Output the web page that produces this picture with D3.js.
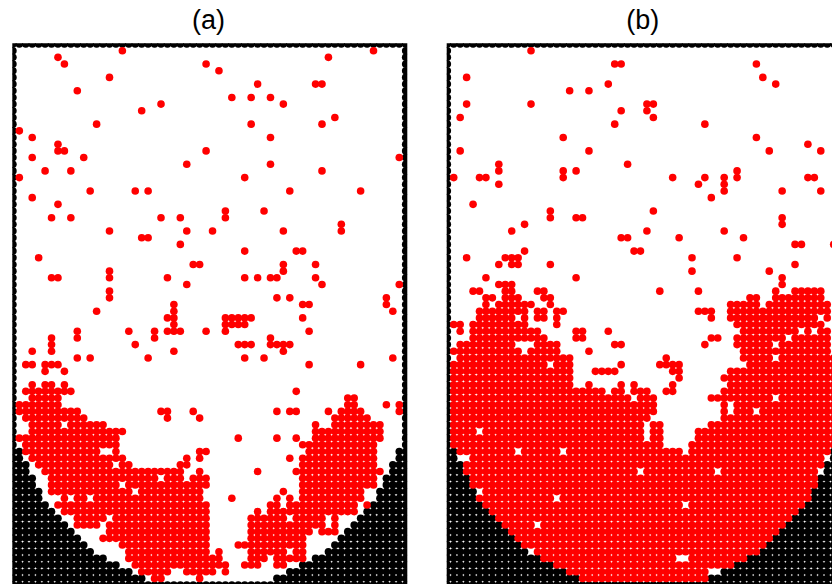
<!DOCTYPE html>
<html>
<head>
    <title>lattice panels</title>
    <script src="https://d3js.org/d3.v7.min.js"></script>
    <style>
        html, body { margin: 0; padding: 0; background: #fff; overflow: hidden; }
        svg { display: block; }
    </style>
</head>
<body>
<div id="chart"></div>
<script>
// panel titles
var titles = ["(a)", "(b)"];

// lattice size: columns 0..61, rows 0..81
var nCols = 61, nRows = 81;

// last wall column on the left for rows 60..80 (mirror on the right)
var wallRows = [60, 61, 62, 63, 64, 65, 66, 67, 68, 69, 70, 71, 72, 73, 74, 75, 76, 77, 78, 79, 80];
var wallEdge = [0, 1, 1, 2, 2, 3, 3, 4, 4, 5, 6, 7, 8, 9, 10, 11, 12, 14, 16, 18, 20];

// red sites by row: [row, "columns"], a-b is a run of columns
var sitesA = [
    [1, "17 56"], [2, "7 49"], [3, "8 30"], [4, "32"], [5, "15"], [6, "38 47 48"], [7, "10"],
    [8, "34 37 40"], [9, "23 42"], [10, "20"], [11, "50"], [12, "13 37 48"], [13, "1"], [14, "3 40"],
    [15, "7"], [16, "7 8 30"], [17, "3 11 60"], [18, "27 40"], [19, "5 9 48"], [20, "1 36"],
    [22, "12 19 21 43 54"], [23, "3"], [24, "7"], [25, "33 39"], [26, "6 9 23 26 33"], [27, "51"],
    [28, "15 27 31 42 51"], [29, "20 21"], [30, "26"], [31, "36 44 45"], [32, "4"], [33, "28 29 42 47"],
    [34, "15 42"], [35, "6 7 15 24 36 38 40 41 47"], [36, "27 48 60"], [37, "15"], [38, "15 41 43 58"],
    [39, "25 45 46 58"], [40, "13 25 59"], [41, "24 25 33-37 45"], [42, "25 33-36"],
    [43, "10 18 22 24-26 30 33 46"], [44, "6 10 22 40"], [45, "6 19 35-37 40-43"], [46, "3 6 25 42"],
    [47, "10 12 21 36 39 59"], [48, "2 3 5-7 46 54"], [49, "5 8"], [51, "3 5 6 8"], [52, "2-9 44"],
    [53, "3-7 52 53"], [54, "1-7 52 53 58 60"], [55, "1-10 23 24 28 41 43 44 49 51-54 60"],
    [56, "2-11 24 29 50-55"], [57, "3-7 9-14 47 50-57"], [58, "3-17 47-57"], [59, "1-16 35 41 44 47-57"],
    [60, "2-16 45-56"], [61, "2-13 16 29 30 46-56"], [62, "3-17 27 29 43 45-56"], [63, "4-15 17 18 26 27 45-56"],
    [64, "5-26 29 38 44-57"], [65, "6-22 24-26 28-30 45-56"], [66, "6-16 18-30 45-56"], [67, "6-18 20-29 42 45-54"],
    [68, "8 10 11 13-29 34 41 43 45-54"], [69, "7-30 40 41 43-53 55"], [70, "8-30 38 40-53"],
    [71, "10-14 16-30 37-42 44-48 50"], [72, "10-13 15-30 37-48 50"], [73, "15-30 37-46 48-50"],
    [74, "14-30 37-45"], [75, "17-30 35-45"], [76, "18-30 32 37-42 44 45"], [77, "18-32 37-39 41-45"],
    [78, "19-33 36-38 41 42"], [79, "20-24 27-31 33"], [80, "22 23 29"]
];

var sitesB = [
    [1, "13"], [3, "26 27 48"], [5, "3 49"], [6, "25 51"], [7, "19 22"], [9, "3 13 31 32"], [10, "27 31"],
    [11, "2 32"], [12, "26 40"], [14, "18 48"], [15, "56"], [16, "2 22 50 58"], [18, "8 28"], [19, "8 18 20 45"],
    [20, "1 5 6 18 35 40 43 45 56 57"], [21, "8 39 43"], [22, "43 52 58"], [23, "41"], [24, "4"], [25, "16 32"],
    [26, "16 20 21 52"], [27, "12 52"], [28, "10 31 43"], [29, "27 28 36 46"], [30, "54 55 60"], [31, "12 29 30"],
    [32, "3 9-11 38 45"], [33, "8 10 11 16 54"], [34, "38 50"], [35, "6 20 52"], [36, "8-10 52"],
    [37, "4 5 9 10 14 15 33 39 51 54-58"], [38, "6 7 9-11 15 16 47 48 51-58"], [39, "6 8-13 16 44-48 50-59"],
    [40, "5-12 14 15 17 18 39-41 44-59"], [41, "5-10 12 14 15 17 41 44-57 59"], [42, "1 2 4-12 17 45-58"],
    [43, "2 4-14 20 21 25 46-54 56 58 59"], [44, "4-15 20 21 41 42 45-52 54-59"], [45, "2-10 14-17 26 27 40 45-50 52-59"],
    [46, "1-11 13-17 22 46-59"], [47, "2-19 34 46-50 52-60"], [48, "1-15 17-19 27 33-36 47-60"],
    [49, "1-19 23-26 35 36 44-60"], [50, "1-19 36 43-60"], [51, "1-19 22 27 29 35 44-60"],
    [52, "1-24 26 27 29-31 34 35 43-60"], [53, "1-28 30-32 41-50 52-60"], [54, "1-32 43 45-60"],
    [55, "1-32 43 45-47 49-60"], [56, "1-31 43-60"], [57, "1-30 32 33 41-60"], [58, "1-4 6-30 32 33 39-60"],
    [59, "1-30 32 33 39-60"], [60, "1-33 38-60"], [61, "2-10 12-17 19-36 38-59"], [62, "4-58"], [63, "3-58"],
    [64, "3-29 31-41 43-57"], [65, "4-57"], [66, "4-57"], [67, "6-56"], [68, "5-16 18-56"], [69, "6-36 38-55"],
    [70, "7-54"], [71, "8-53"], [72, "9-13 15-52"], [73, "10-51"], [74, "11-50"], [75, "12-49"], [76, "14-48"],
    [77, "15-35 38-46"], [78, "17-44"], [79, "19-40"], [80, "21-40"]
];

// turn "3 5-7" into one {col, row} per site
function expand(rows) {
    var out = [];
    rows.forEach(function(r) {
        r[1].split(" ").forEach(function(tok) {
            var p = tok.split("-").map(Number);
            d3.range(p[0], (p.length > 1 ? p[1] : p[0]) + 1).forEach(function(c) {
                out.push({col: c, row: r[0]});
            });
        });
    });
    return out;
}

// the black container: top row, side columns, bottom row, curved corners
function wallSites() {
    var out = [];
    d3.range(0, nRows + 1).forEach(function(r) {
        d3.range(0, nCols + 1).forEach(function(c) {
            var i = wallRows.indexOf(r);
            var edge = i >= 0 ? wallEdge[i] : 0;
            if (r === 0 || r === nRows || c <= edge || c >= nCols - edge) out.push({col: c, row: r});
        });
    });
    return out;
}

var width = 832, height = 584;
var dotR = 3.8;

var svg = d3.select("#chart")
    .append("svg")
    .attr("width", width)
    .attr("height", height);

var y = d3.scaleLinear().domain([0, nRows]).range([44, 585.1]);

var panels = [
    {title: titles[0], sites: sitesA, x0: 12.9, clipX: 12.3},
    {title: titles[1], sites: sitesB, x0: 447.3, clipX: 446.7}
];

panels.forEach(function(p, i) {
    var x = d3.scaleLinear().domain([0, nCols]).range([p.x0, p.x0 + 392.8]);

    svg.append("clipPath")
        .attr("id", "clip" + i)
        .append("rect")
        .attr("x", p.clipX)
        .attr("y", 43.3)
        .attr("width", 395)
        .attr("height", 560);

    var g = svg.append("g").attr("clip-path", "url(#clip" + i + ")");

    g.selectAll("circle.wall")
        .data(wallSites())
        .enter()
        .append("circle")
        .attr("class", "wall")
        .attr("cx", function(d) { return x(d.col); })
        .attr("cy", function(d) { return y(d.row); })
        .attr("r", dotR)
        .style("fill", "#000");

    g.selectAll("circle.site")
        .data(expand(p.sites))
        .enter()
        .append("circle")
        .attr("class", "site")
        .attr("cx", function(d) { return x(d.col); })
        .attr("cy", function(d) { return y(d.row); })
        .attr("r", dotR)
        .style("fill", "#ff0000");

    svg.append("text")
        .attr("x", p.x0 + 195.5)
        .attr("y", 28.5)
        .attr("text-anchor", "middle")
        .style("font-family", "'Liberation Sans', Arial, sans-serif")
        .style("font-size", "27px")
        .style("fill", "#000")
        .text(p.title);
});
</script>
</body>
</html>
